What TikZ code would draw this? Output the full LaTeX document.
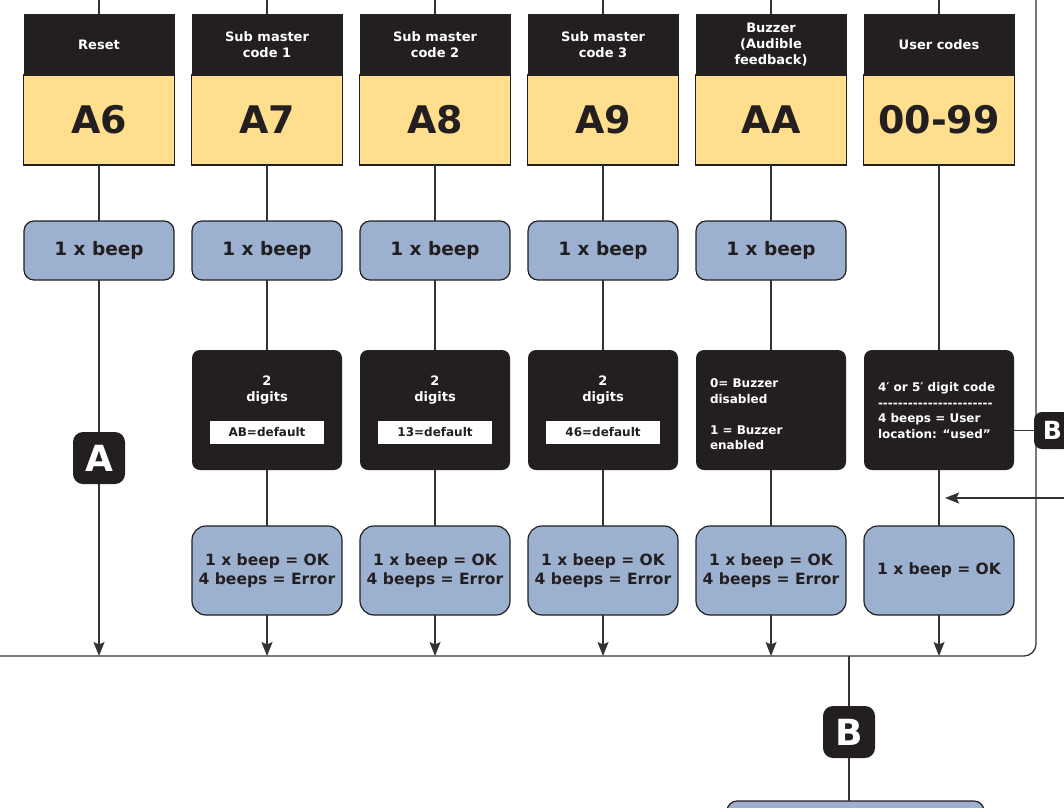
\documentclass[tikz,border=0pt]{standalone}
\usepackage{fontspec}
\setmainfont{DejaVu Sans}
\usetikzlibrary{arrows.meta}

\definecolor{ink}{HTML}{231F20}
\definecolor{gold}{HTML}{FFDE8E}
\definecolor{steel}{HTML}{9CB0D0}
\definecolor{wirec}{HTML}{333333}

\tikzset{
  wire/.style={draw=wirec, line width=1.1pt},
  arr/.style={wire, -{Stealth[length=14pt,width=11pt,inset=2.5pt]}},
  basebox/.style={inner sep=0pt, outer sep=0pt, align=center},
  head/.style={basebox, fill=ink, text=white, minimum width=151pt, minimum height=61pt,
    font=\fontsize{13}{16}\selectfont\bfseries},
  codebox/.style={basebox, fill=gold, draw=ink, line width=1.2pt, text=ink,
    minimum width=151pt, minimum height=90pt, font=\fontsize{38}{40}\selectfont\bfseries},
  beep/.style={basebox, fill=steel, draw=ink, line width=1.2pt, text=ink, rounded corners=10pt,
    minimum width=150pt, minimum height=59pt, font=\fontsize{18.5}{20}\selectfont\bfseries},
  result/.style={beep, rounded corners=14pt, minimum height=89pt,
    font=\fontsize{15.5}{18.5}\selectfont\bfseries},
  darkbox/.style={basebox, fill=ink, rounded corners=8pt, minimum width=150pt, minimum height=120pt},
  darktext/.style={basebox, text=white, font=\fontsize{13}{16}\selectfont\bfseries},
  notetext/.style={inner sep=0pt, outer sep=0pt, align=left, text=white,
    font=\fontsize{12}{15.5}\selectfont\bfseries},
  defbox/.style={basebox, fill=white, text=ink, minimum width=114pt, minimum height=23pt,
    font=\fontsize{12}{14}\selectfont\bfseries},
  tag/.style={basebox, fill=ink, text=white, rounded corners=10pt, minimum size=52pt,
    font=\fontsize{36}{36}\selectfont\bfseries},
  smalltag/.style={tag, rounded corners=8pt, minimum size=37pt, font=\fontsize{25}{25}\selectfont\bfseries},
}

\begin{document}
\begin{tikzpicture}[x=1pt,y=-1pt]
\useasboundingbox (0,0) rectangle (1064,807);
\clip (0,0) rectangle (1064,807);

% collecting bus along the bottom and up the right side
\coordinate (topR) at (1036,0);
\coordinate (busC) at (1036,656);
\coordinate (busL) at (0,656);
\draw[wire, line width=1.3pt, rounded corners=12pt] (topR) -- (busC) -- (busL);

% column heads: title and code
\foreach \n/\t/\c [count=\k from 0] in
  {a/Reset/A6, b/{Sub master\\code 1}/A7, c/{Sub master\\code 2}/A8,
   d/{Sub master\\code 3}/A9, e/{Buzzer\\(Audible\\feedback)}/AA, f/User codes/00-99} {
  \coordinate (t\n) at (99+168*\k,0);
  \coordinate (bus\n) at (99+168*\k,656);
  \node[head] (h\n) at (99+168*\k,44.5) {\t};
  \node[codebox] (c\n) at (99+168*\k,120) {\c};
  \draw[wire] (t\n) -- (h\n.north);
}

% confirmation beeps after the code
\foreach \n [count=\k from 0] in {a,b,c,d,e} {
  \node[beep] (b\n) at (99+168*\k,250.5) {1 x beep};
  \draw[wire] (c\n.south) -- (b\n.north);
}

% entry boxes
\foreach \n [count=\k from 1] in {b,c,d,e,f} {
  \node[darkbox] (k\n) at (99+168*\k,410) {};
}
\foreach \n/\d [count=\k from 1] in {b/AB, c/13, d/46} {
  \node[darktext] (g\n) at (99+168*\k,390) {2\\digits};
  \node[defbox] (w\n) at (99+168*\k,432.5) {\d=default};
}
\node[notetext, anchor=west] (ge) at (710,414.5) {0= Buzzer\\disabled\\[15.5pt]1 = Buzzer\\enabled};
\node[notetext, anchor=west] (gf) at (878,410.5)
  {4′ or 5′ digit code\\-{}-{}-{}-{}-{}-{}-{}-{}-{}-{}-{}-{}-{}-{}-{}-{}-{}-{}-{}-{}-{}-{}-{}\\4 beeps = User\\location: “used”};

% results
\foreach \n [count=\k from 1] in {b,c,d,e} {
  \node[result] (r\n) at (99+168*\k,570.5) {1 x beep = OK\\4 beeps = Error};
}
\node[result] (rf) at (939,570.5) {1 x beep = OK};

% vertical connectors
\foreach \n in {b,c,d,e} {
  \draw[wire] (b\n.south) -- (k\n.north);
}
\draw[wire] (cf.south) -- (kf.north);
\foreach \n in {b,c,d,e,f} {
  \draw[wire] (k\n.south) -- (r\n.north);
  \draw[arr] (r\n.south) -- (bus\n);
}

% reset column with jump label A
\node[tag] (tagA) at (99,458) {A};
\draw[wire] (ba.south) -- (tagA.north);
\draw[arr] (tagA.south) -- (busa);

% jump B on the right and the return feed
\node[smalltag] (tagB) at (1052.5,430.5) {B};
\draw[wire] (kf.east |- tagB.west) -- (tagB.west);
\coordinate (feed) at (1064,498);
\coordinate (feedEnd) at (945,498);
\draw[arr] (feed) -- (feedEnd);

% continuation below the bus
\coordinate (busJ) at (849,656);
\node[tag] (tagBot) at (849,732) {B};
\node[beep, minimum width=257pt, minimum height=60pt] (final) at (855.5,831) {};
\draw[wire] (busJ) -- (tagBot.north);
\draw[wire] (tagBot.south) -- (tagBot.south |- final.north);
\end{tikzpicture}
\end{document}
